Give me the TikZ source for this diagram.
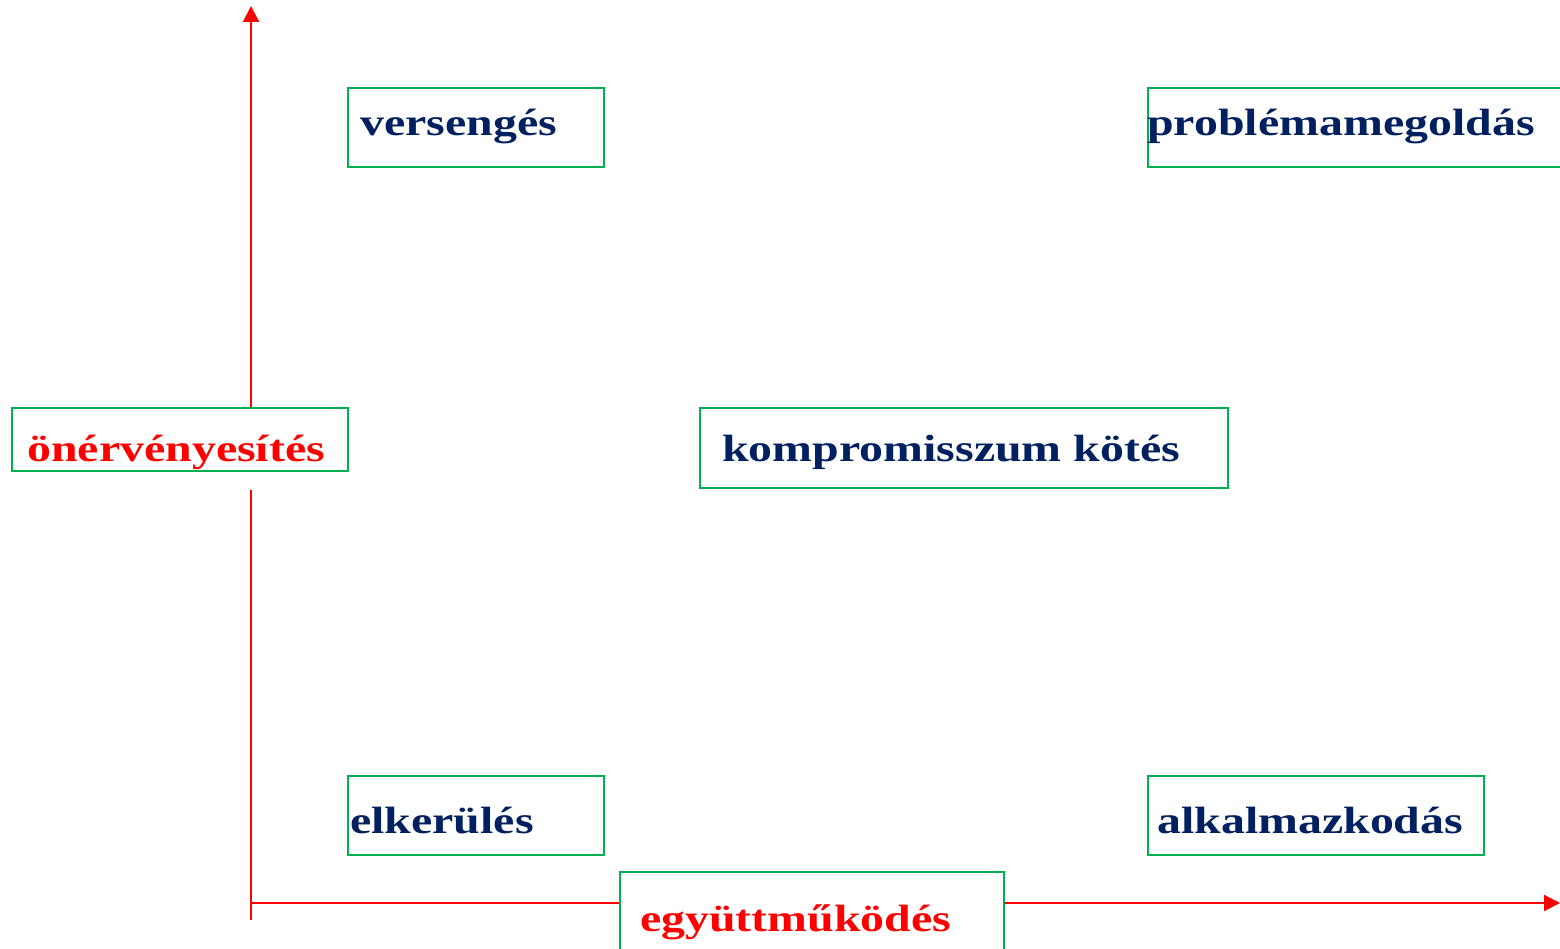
\documentclass[tikz,border=0pt]{standalone}
\usepackage{fontspec}
\setmainfont{Liberation Serif}
\newfontfamily\lblfont[FakeStretch=1.26]{Liberation Serif}
\usetikzlibrary{arrows.meta}
\definecolor{navy}{RGB}{0,32,96}
\definecolor{grn}{RGB}{0,176,80}
\definecolor{rd}{RGB}{255,0,0}
\tikzset{
  box/.style={draw=grn, line width=2pt, anchor=north west, inner sep=0pt, fill=none},
  lbl/.style={anchor=base west, inner sep=0pt, text=navy, font=\lblfont\fontsize{38}{42}\selectfont\bfseries},
  axlbl/.style={lbl, text=rd},
  axis/.style={draw=rd, line width=2pt},
  tip/.style={-{Triangle[length=16pt,width=16pt]}}
}
\begin{document}
\begin{tikzpicture}[x=1pt,y=-1pt]
\useasboundingbox (0,0) rectangle (1560,949);
% boxes
\node[box, minimum width=256pt, minimum height=79pt] (bvers) at (347,87) {};
\node[box, minimum width=420pt, minimum height=79pt] (bprob) at (1147,87) {};
\node[box, minimum width=336pt, minimum height=63pt] (bon) at (11,407) {};
\node[box, minimum width=528pt, minimum height=80pt] (bkomp) at (699,407) {};
\node[box, minimum width=256pt, minimum height=79pt] (belk) at (347,775) {};
\node[box, minimum width=336pt, minimum height=79pt] (balk) at (1147,775) {};
\node[box, minimum width=384pt, minimum height=90pt] (begy) at (619,871) {};
% labels
\node[lbl] (tvers) at (360,136) {versengés};
\node[lbl] (tprob) at (1147,136) {problémamegoldás};
\node[axlbl] (ton) at (27,461) {önérvényesítés};
\node[lbl] (tkomp) at (722,461) {kompromisszum kötés};
\node[lbl] (telk) at (350,833) {elkerülés};
\node[lbl] (talk) at (1157,833) {alkalmazkodás};
\node[axlbl] (tegy) at (640,931) {együttműködés};
% axes
\coordinate (origin) at (251,920);
\coordinate (vbreak) at (251,490);
\coordinate (vtop) at (251,6);
\coordinate (hstart) at (251,903);
\coordinate (hend) at (1560,903);
\draw[axis] (origin) -- (vbreak);
\draw[axis, tip] (bon.north -| origin) -- (vtop);
\draw[axis] (hstart) -- (hstart -| begy.west);
\draw[axis, tip] (hstart -| begy.east) -- (hend);
\end{tikzpicture}
\end{document}
